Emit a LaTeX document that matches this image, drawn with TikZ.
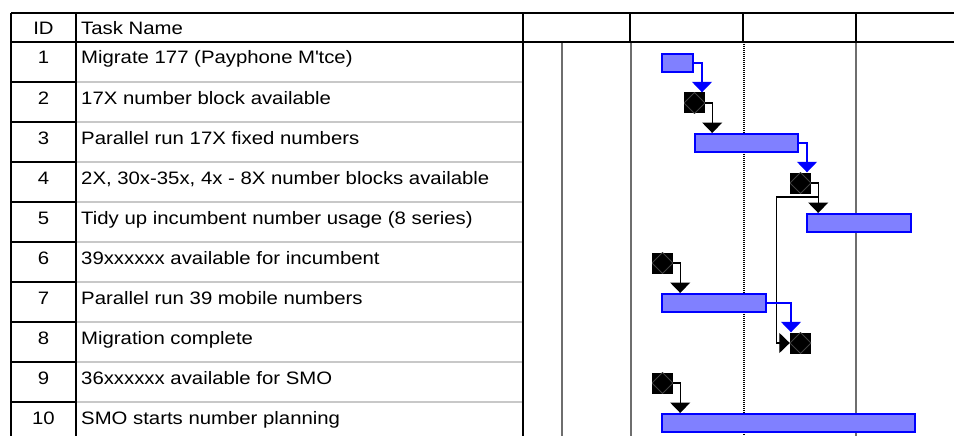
\documentclass[tikz,border=0pt]{standalone}
\usepackage{fontspec}
\setmainfont{Liberation Sans}[FakeStretch=1.13]
\usetikzlibrary{arrows.meta,calc}
\definecolor{barfill}{HTML}{8080FF}
\definecolor{barline}{HTML}{0000FF}
\definecolor{gridgray}{HTML}{6E6E6E}
\definecolor{rowgray}{HTML}{C8C8C8}
\definecolor{dgray}{HTML}{404040}
\tikzset{
  tabline/.style={line width=1.4pt, black},
  rowline/.style={line width=1.4pt, rowgray},
  gridline/.style={line width=2.6pt, gridgray},
  gridthin/.style={line width=1.2pt, black, dash pattern=on 1.2pt off 0.8pt},
  txt/.style={inner sep=0pt, font=\fontsize{18}{20}\selectfont},
  bar/.style={draw=barline, fill=barfill, line width=1.6pt, minimum height=18.4pt, inner sep=0pt},
  ms/.style={fill=black, minimum width=21pt, minimum height=21pt, inner sep=0pt,
    path picture={\draw[dgray, line width=0.8pt]
      (path picture bounding box.north) -- (path picture bounding box.east) --
      (path picture bounding box.south) -- (path picture bounding box.west) -- cycle;}},
  conn/.style={line width=1.3pt, black, -{Triangle[width=20pt,length=10.5pt]}},
  bconn/.style={conn, barline},
}
\begin{document}
\begin{tikzpicture}[x=1pt, y=-1pt]
\useasboundingbox (0,0) rectangle (954,436);
\fill[white] (0,0) rectangle (954,436);
% gantt grid
\draw[gridline] (562,42) -- (562,436);
\draw[gridline] (631,42) -- (631,436);
\draw[gridline] (856,42) -- (856,436);
\draw[gridthin] (744,42) -- (744,436);
% row separators
\foreach \k in {1,...,9} {
  \draw[rowline] (76,42+40*\k) -- (523,42+40*\k);
  \draw[tabline] (11,42+40*\k) -- (76,42+40*\k);
}
% header frame
\draw[tabline] (11,13) -- (954,13);
\draw[tabline] (11,42) -- (954,42);
\draw[tabline] (11,13) -- (11,436);
\draw[tabline] (76,13) -- (76,436);
\draw[line width=2pt] (523,13) -- (523,436);
\foreach \x in {630,743,856} \draw[tabline] (\x,13) -- (\x,42);
% header text
\node[txt, anchor=base] (hid) at (43.5,35) {ID};
\node[txt, anchor=base west] (hname) at (81,35) {Task Name};
% rows
\foreach \k/\t in {1/{Migrate 177 (Payphone M\textquotesingle tce)},
  2/{17X number block available},
  3/{Parallel run 17X fixed numbers},
  4/{2X, 30x-35x, 4x - 8X number blocks available},
  5/{Tidy up incumbent number usage (8 series)},
  6/{39xxxxxx available for incumbent},
  7/{Parallel run 39 mobile numbers},
  8/{Migration complete},
  9/{36xxxxxx available for SMO},
  10/{SMO starts number planning}} {
  \node[txt, anchor=base] (id\k) at (43.5,24+40*\k) {\k};
  \node[txt, anchor=base west] (t\k) at (81,24+40*\k) {\t};
}
% bars
\node[bar, minimum width=31.4pt] (b1) at (677.5,63) {};
\node[bar, minimum width=103.4pt] (b3) at (746.5,143) {};
\node[bar, minimum width=104.4pt] (b5) at (859,223) {};
\node[bar, minimum width=104.4pt] (b7) at (714,303) {};
\node[bar, minimum width=253.4pt] (b10) at (788.5,423) {};
% milestones
\node[ms] (m2) at (694.5,103) {};
\node[ms] (m4) at (800.5,183) {};
\node[ms] (m6) at (662.5,263) {};
\node[ms] (m8) at (800.5,343) {};
\node[ms] (m9) at (662.5,383) {};
% connectors
\draw[bconn] (b1.east) -- ++(8,0) coordinate (c1) -- (c1 |- m2.north);
\draw[conn] (m2.east) -- ++(7,0) coordinate (c2) -- (c2 |- b3.north);
\draw[bconn] (b3.east) -- ++(8,0) coordinate (c3) -- (c3 |- m4.north);
\draw[conn] (m4.east) -- ++(7,0) coordinate (c4) -- (c4 |- b5.north);
\coordinate (j4) at ($(c4)+(0,14)$);
\draw[conn] (j4) -- ++(-42,0) coordinate (c4b) -- (c4b |- m8.west) -- (m8.west);
\draw[conn] (m6.east) -- ++(7,0) coordinate (c6) -- (c6 |- b7.north);
\draw[bconn] (b7.east) -- ++(24,0) coordinate (c7) -- (c7 |- m8.north);
\draw[conn] (m9.east) -- ++(7,0) coordinate (c9) -- (c9 |- b10.north);
\end{tikzpicture}
\end{document}
